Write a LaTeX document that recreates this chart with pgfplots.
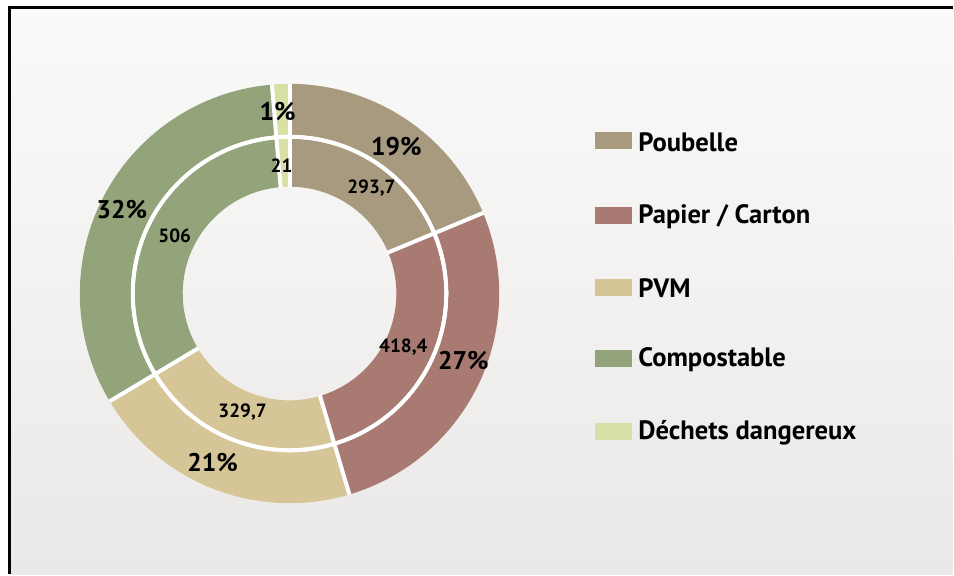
\documentclass[border=0pt]{standalone}
\usepackage{fontspec}
\setmainfont{PT Sans}
\usepackage{pgfplots}
\usepackage{pgfplotstable}
\pgfplotsset{compat=1.18}

\definecolor{cPoub}{HTML}{A79A7F}
\definecolor{cPap}{HTML}{A87A72}
\definecolor{cPVM}{HTML}{D5C597}
\definecolor{cComp}{HTML}{93A37A}
\definecolor{cDech}{HTML}{D8E0A6}
\definecolor{bgtop}{HTML}{FAFAFA}
\definecolor{bgbot}{HTML}{EBE9E7}

\pgfplotstableread[col sep=comma]{
name,value
Poubelle,293.7
Papier / Carton,418.4
PVM,329.7
Compostable,506
Déchets dangereux,21
}\wastedata

\pgfplotstablegetelem{0}{value}\of\wastedata \let\vA\pgfplotsretval
\pgfplotstablegetelem{1}{value}\of\wastedata \let\vB\pgfplotsretval
\pgfplotstablegetelem{2}{value}\of\wastedata \let\vC\pgfplotsretval
\pgfplotstablegetelem{3}{value}\of\wastedata \let\vD\pgfplotsretval
\pgfplotstablegetelem{4}{value}\of\wastedata \let\vE\pgfplotsretval
\pgfmathsetmacro\tot{\vA+\vB+\vC+\vD+\vE}
\pgfmathsetmacro\angA{90}
\pgfmathsetmacro\angB{90-360*((\vA)/\tot)}
\pgfmathsetmacro\angC{90-360*((\vA+\vB)/\tot)}
\pgfmathsetmacro\angD{90-360*((\vA+\vB+\vC)/\tot)}
\pgfmathsetmacro\angE{90-360*((\vA+\vB+\vC+\vD)/\tot)}
\pgfmathsetmacro\angF{-270}

% sector: color, start angle, end angle, outer radius, inner radius
\newcommand\sector[5]{%
  \fill[#1] (axis cs:290,281) ++(#2:#4) arc[start angle=#2, end angle=#3, radius=#4]
    -- ++({#3+180}:{#4-#5}) arc[start angle=#3, end angle=#2, radius=#5] -- cycle;}
\newcommand\sep[1]{%
  \draw[white, line width=2pt] (axis cs:290,281) ++(#1:53.2pt) -- ++(#1:51.9pt);}

\begin{document}
\begin{tikzpicture}
\begin{axis}[hide axis, scale only axis, width=477pt, height=287.5pt,
  xmin=0, xmax=954, ymin=0, ymax=575, clip=false]
  % background
  \fill[white] (axis cs:0,0) rectangle (axis cs:954,575);
  \shade[top color=bgtop, bottom color=bgbot] (axis cs:10,0) rectangle (axis cs:954,568);
  \draw[black, line width=1.5pt] (axis cs:9.5,0) -- (axis cs:9.5,567.5) -- (axis cs:954,567.5);
  % outer ring
  \sector{cPoub}{\angA}{\angB}{105pt}{79.5pt}
  \sector{cPap}{\angB}{\angC}{105pt}{79.5pt}
  \sector{cPVM}{\angC}{\angD}{105pt}{79.5pt}
  \sector{cComp}{\angD}{\angE}{105pt}{79.5pt}
  \sector{cDech}{\angE}{\angF}{105pt}{79.5pt}
  % inner ring
  \sector{cPoub}{\angA}{\angB}{77.5pt}{53.5pt}
  \sector{cPap}{\angB}{\angC}{77.5pt}{53.5pt}
  \sector{cPVM}{\angC}{\angD}{77.5pt}{53.5pt}
  \sector{cComp}{\angD}{\angE}{77.5pt}{53.5pt}
  \sector{cDech}{\angE}{\angF}{77.5pt}{53.5pt}
  % separators
  \draw[white, line width=2pt] (axis cs:290,281) circle[radius=78.5pt];
  \sep{\angA}\sep{\angB}\sep{\angC}\sep{\angD}\sep{\angE}
  % labels
  \node[font=\bfseries\fontsize{12.8}{14}\selectfont] at (axis cs:397,428) {19\%};
  \node[font=\bfseries\fontsize{12.8}{14}\selectfont] at (axis cs:464,214) {27\%};
  \node[font=\bfseries\fontsize{12.8}{14}\selectfont] at (axis cs:213,112) {21\%};
  \node[font=\bfseries\fontsize{12.8}{14}\selectfont] at (axis cs:122,365) {32\%};
  \node[font=\bfseries\fontsize{12.8}{14}\selectfont] at (axis cs:278,463) {1\%};
  \node[font=\bfseries\fontsize{9.6}{11}\selectfont] at (axis cs:372,387) {293,7};
  \node[font=\bfseries\fontsize{9.6}{11}\selectfont] at (axis cs:404,227) {418,4};
  \node[font=\bfseries\fontsize{9.6}{11}\selectfont] at (axis cs:243,162) {329,7};
  \node[font=\bfseries\fontsize{9.6}{11}\selectfont] at (axis cs:175,339) {506};
  \node[font=\bfseries\fontsize{9.6}{11}\selectfont] at (axis cs:282,409) {21};
  % legend
  \fill[cPoub] (axis cs:596,425.5) rectangle (axis cs:633,442.5);
  \fill[cPap]  (axis cs:596,350.5) rectangle (axis cs:633,367.5);
  \fill[cPVM]  (axis cs:596,278.5) rectangle (axis cs:633,295.5);
  \fill[cComp] (axis cs:596,207.5) rectangle (axis cs:633,224.5);
  \fill[cDech] (axis cs:596,134.5) rectangle (axis cs:633,151.5);
  \begin{scope}[every node/.style={anchor=west, inner sep=0pt, font=\bfseries\fontsize{13.3}{15}\selectfont}]
  \node at (axis cs:639,433) {Poubelle};
  \node at (axis cs:639,358) {Papier / Carton};
  \node at (axis cs:639,286) {PVM};
  \node at (axis cs:639,215) {Compostable};
  \node at (axis cs:639,142) {Déchets dangereux};
  \end{scope}
\end{axis}
\end{tikzpicture}
\end{document}
